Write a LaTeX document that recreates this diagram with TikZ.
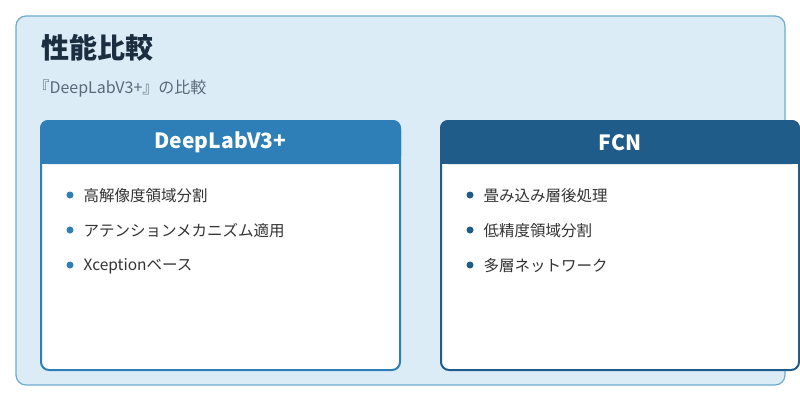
\documentclass[tikz,border=0pt]{standalone}
\usepackage{fontspec}
\setmainfont{Noto Sans CJK JP}
\definecolor{lc}{RGB}{46,127,184}
\definecolor{rc}{RGB}{31,92,138}
\definecolor{bgc}{RGB}{220,236,247}
\definecolor{bdc}{RGB}{110,170,208}
\definecolor{ttc}{RGB}{26,46,64}
\definecolor{sbc}{RGB}{90,105,120}
\begin{document}
\begin{tikzpicture}[x=1pt,y=-1pt,
  card/.style={line width=2pt,rounded corners=8pt,fill=white},
  head/.style={text=white,font=\fontsize{21}{25}\selectfont\bfseries},
  item/.style={anchor=west,text=black!80,font=\fontsize{15.5}{18}\selectfont},
  dot/.style={circle,inner sep=0pt,minimum size=7pt}]
\useasboundingbox (0,0) rectangle (800,400);
\fill[white] (0,0) rectangle (800,400);
\draw[fill=bgc,draw=bdc,line width=1.2pt,rounded corners=10pt] (16,16) rectangle (785,385);
\node[anchor=west,text=ttc,font=\fontsize{28}{32}\selectfont\bfseries] (title) at (38,48) {性能比較};
\node[anchor=west,text=sbc,font=\fontsize{16}{19}\selectfont] (sub) at (30,89) {『DeepLabV3+』の比較};
\draw[card,draw=lc] (41,121) rectangle (400,370);
\fill[lc,rounded corners=8pt] (40,120) rectangle (401,164);
\fill[lc] (40,150) rectangle (401,164);
\node[head] (lh) at (220.5,142) {DeepLabV3+};
\draw[card,draw=rc] (441,121) rectangle (799,370);
\fill[rc,rounded corners=8pt] (440,120) rectangle (800,164);
\fill[rc] (440,150) rectangle (800,164);
\node[head] (rh) at (620,143) {FCN};
\foreach \t [count=\i] in {高解像度領域分割,アテンションメカニズム適用,Xceptionベース}{
  \node[dot,fill=lc] (ld\i) at (70,160+35*\i) {};
  \node[item] (lt\i) at (80,161+35*\i) {\t};}
\foreach \t [count=\i] in {畳み込み層後処理,低精度領域分割,多層ネットワーク}{
  \node[dot,fill=rc] (rd\i) at (470,160+35*\i) {};
  \node[item] (rt\i) at (480,161+35*\i) {\t};}
\end{tikzpicture}
\end{document}
